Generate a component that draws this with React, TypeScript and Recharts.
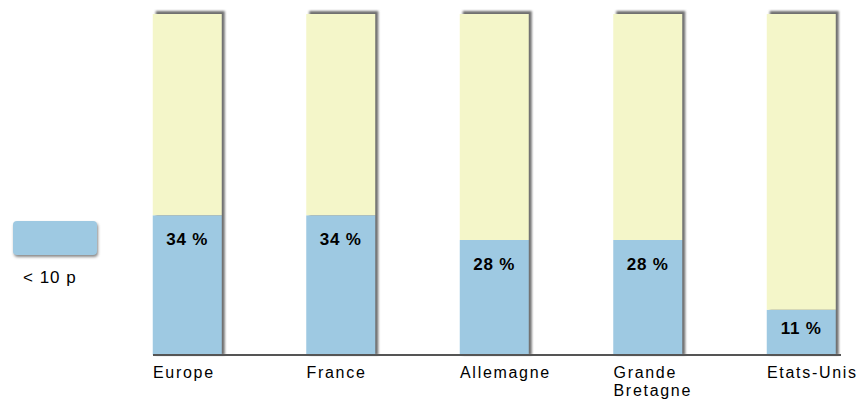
import { BarChart, Bar, XAxis, YAxis, LabelList, Legend } from "recharts"

// share of each country in the "< 10 p" group, and the remainder of the bar
const categories = ["Europe", "France", "Allemagne", "Grande Bretagne", "Etats-Unis"]
const under10 = [34, 34, 28, 28, 11]
const others = [49, 49, 55, 55, 72]
const tickIdx = [0, 1, 2, 3, 4]

const BLUE = "#9ec9e2"
const YELLOW = "#f4f6c9"
const FONT = "'Liberation Sans', Arial, sans-serif"
const BAR_W = 69

const data = categories.map((name, i) => ({
  idx: i,
  name,
  under10: under10[i],
  others: others[i],
}))

// blue segment also paints the drop shadow for the whole stack
function BlueShape(props: any) {
  const { x, y, width, height, payload, index } = props
  const unit = height / payload.under10
  const top = y - payload.others * unit
  const id = `bar-shadow-${index}`
  return (
    <g>
      <defs>
        <filter id={id} x="-20%" y="-20%" width="140%" height="140%">
          <feGaussianBlur stdDeviation="1.3" />
        </filter>
      </defs>
      <rect x={x + 3} y={top - 3} width={width} height={y + height - top + 3} fill="#6f6f6f" filter={`url(#${id})`} />
      <rect x={x} y={y} width={width} height={height} fill={BLUE} />
    </g>
  )
}

function PctLabel(props: any) {
  const { x, y, width, height, value } = props
  const off = Math.min(24, height / 2 - 4)
  return (
    <text
      x={x + width / 2}
      y={y + off}
      dy="0.35em"
      textAnchor="middle"
      fontFamily={FONT}
      fontSize={17}
      fontWeight="bold"
      letterSpacing={0.8}
      fill="#000"
    >
      {value} %
    </text>
  )
}

function CatTick(props: any) {
  const { x, y, payload } = props
  const words = categories[payload.value].split(" ")
  return (
    <text x={x - BAR_W / 2} y={y} fontFamily={FONT} fontSize={16} letterSpacing={1.7} fill="#000" textAnchor="start">
      {words.map((w: string, i: number) => (
        <tspan key={i} x={x - BAR_W / 2} dy={i === 0 ? 21 : 18}>
          {w}
        </tspan>
      ))}
    </text>
  )
}

function LegendBox() {
  return (
    <div style={{ fontFamily: FONT }}>
      <div
        style={{
          width: 84,
          height: 34,
          background: BLUE,
          borderRadius: 4,
          boxShadow: "1px 2px 3px #888",
        }}
      />
      <div style={{ marginTop: 13, marginLeft: 10, fontSize: 17, letterSpacing: 1, color: "#000", lineHeight: "20px" }}>
        &lt; 10 p
      </div>
    </div>
  )
}

export default function App() {
  return (
    <div style={{ position: "absolute", left: 0, top: 0, width: 857, height: 400, background: "#fff" }}>
      <BarChart width={857} height={400} data={data} margin={{ top: 14, right: 16, bottom: 15, left: 153 }}>
        {/* numeric axis so the bars sit where the original places them */}
        <XAxis
          type="number"
          dataKey="idx"
          domain={[-0.2248, 4.2573]}
          ticks={tickIdx}
          interval={0}
          tickLine={false}
          tickSize={0}
          height={30}
          axisLine={{ stroke: "#555", strokeWidth: 2 }}
          tick={<CatTick />}
        />
        <YAxis hide domain={[0, 83]} />
        <Legend
          layout="horizontal"
          verticalAlign="middle"
          content={<LegendBox />}
          wrapperStyle={{ position: "absolute", left: 13, top: 221, width: 120 }}
        />
        <Bar dataKey="under10" stackId="a" barSize={BAR_W} shape={<BlueShape />} isAnimationActive={false}>
          <LabelList dataKey="under10" content={<PctLabel />} />
        </Bar>
        <Bar dataKey="others" stackId="a" barSize={BAR_W} fill={YELLOW} legendType="none" isAnimationActive={false} />
      </BarChart>
    </div>
  )
}
